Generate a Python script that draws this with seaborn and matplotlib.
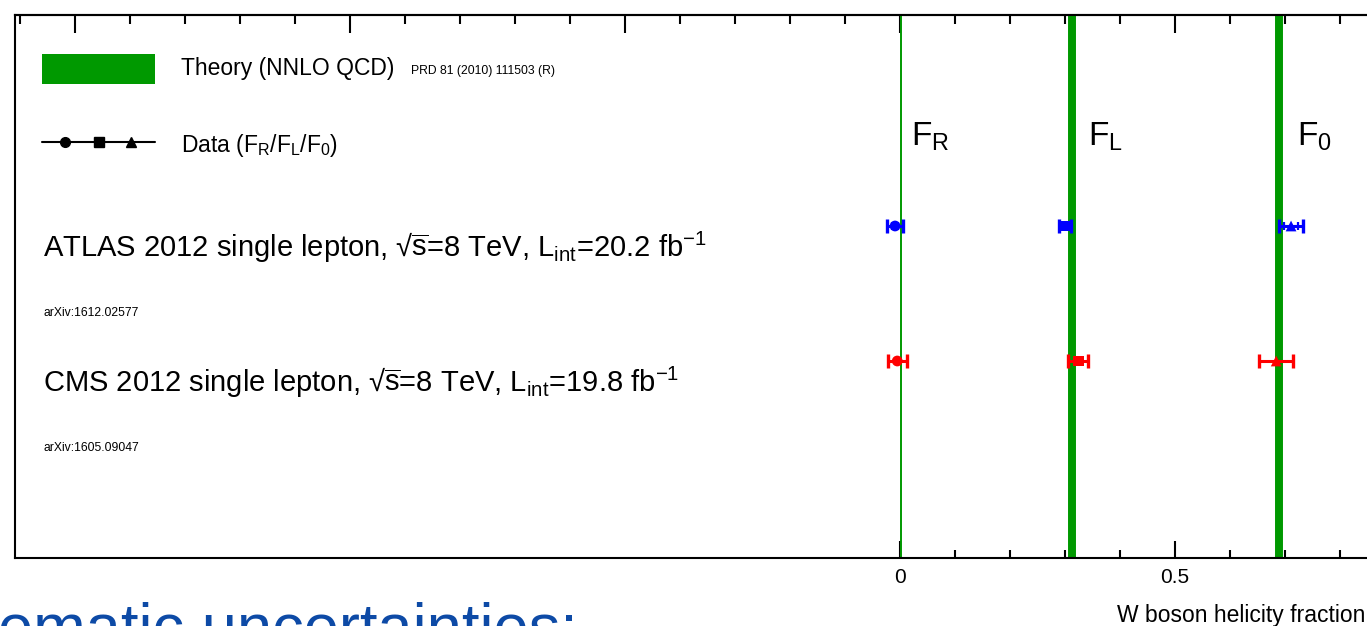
import numpy as np
import pandas as pd
import matplotlib
matplotlib.use('Agg')
import matplotlib.pyplot as plt
import seaborn as sns
from matplotlib.patches import Rectangle
from matplotlib.lines import Line2D
from matplotlib.ticker import MultipleLocator, NullFormatter

# ---------------- data ----------------
components = ['F_R', 'F_L', 'F_0']
comp_subscripts = ['R', 'L', '0']
theory_center = [0.0017, 0.312, 0.689]
theory_half = [0.0001, 0.0055, 0.0055]

experiments = ['ATLAS', 'CMS']
atlas_value = [-0.009, 0.300, 0.711]
atlas_stat = [0.006, 0.008, 0.013]
atlas_total = [0.015, 0.011, 0.021]
cms_value = [-0.005, 0.324, 0.684]
cms_total = [0.017, 0.018, 0.031]

exp_labels = [r'ATLAS 2012 single lepton, √$\overline{\mathrm{s}}$=8 TeV, L$_{\mathrm{int}}$=20.2 fb$^{\mathrm{-1}}$',
              r'CMS 2012 single lepton, √$\overline{\mathrm{s}}$=8 TeV, L$_{\mathrm{int}}$=19.8 fb$^{\mathrm{-1}}$']
exp_refs = ['arXiv:1612.02577', 'arXiv:1605.09047']
theory_label = 'Theory (NNLO QCD)'
theory_ref = 'PRD 81 (2010) 111503 (R)'
data_label = r'Data (F$_{\mathrm{R}}$/F$_{\mathrm{L}}$/F$_{\mathrm{0}}$)'
xlabel = 'W boson helicity fraction'
xtick_values = [0.0, 0.5]
xtick_labels = ['0', '0.5']
xminor_values = [0.1, 0.2, 0.3, 0.4, 0.6, 0.7, 0.8, 0.9]
slide_text = 'ematic uncertainties:'

# ---------------- style ----------------
sns.set_theme(style='white')
font = 'Liberation Sans'
plt.rcParams['font.family'] = [font, 'DejaVu Sans']
plt.rcParams['text.color'] = 'black'
plt.rcParams['xtick.color'] = 'black'
plt.rcParams['mathtext.fontset'] = 'custom'
plt.rcParams['mathtext.rm'] = font
plt.rcParams['mathtext.it'] = font
plt.rcParams['mathtext.fallback'] = 'stixsans'

W, H = 1367, 626
fig = plt.figure(figsize=(W / 100, H / 100), dpi=100)
fig.patch.set_facecolor('white')

def fx(px):
    return px / W

def fy(py):
    return 1 - py / H

# axes: left frame at x=15, top 15, bottom 558; value 0 at px 900, 0.1 per 55 px
x_left = (15 - 900) / 550
x_right = 1.0
right_px = 900 + 550 * x_right
ax = fig.add_axes([fx(15), fy(558), fx(right_px) - fx(15), fy(15) - fy(558)])
ax.set_xlim(x_left, x_right)
ax.set_ylim(1 + (558 - 226) / 135, 1 - (226 - 15) / 135)
ax.set_facecolor('white')

green = '#009900'
for c, h in zip(theory_center, theory_half):
    ax.axvspan(c - h, c + h, color=green, lw=1.4, zorder=1)

# data points
rows = {'ATLAS': 1.0, 'CMS': 2.0}
df = pd.DataFrame({
    'experiment': ['ATLAS'] * 3 + ['CMS'] * 3,
    'component': components * 2,
    'value': atlas_value + cms_value,
    'total': atlas_total + cms_total,
})
df['row'] = df['experiment'].map(rows)
palette = {'ATLAS': '#0000ff', 'CMS': '#ff0000'}
markers = {'F_R': 'o', 'F_L': 's', 'F_0': '^'}

for exp in experiments:
    sub = df[df['experiment'] == exp]
    ax.errorbar(sub['value'], sub['row'], xerr=sub['total'], fmt='none',
                ecolor=palette[exp], elinewidth=2.2, capsize=4.7, capthick=2.4, zorder=3)
sub = df[df['experiment'] == 'ATLAS']
ax.errorbar(sub['value'], sub['row'], xerr=atlas_stat, fmt='none',
            ecolor=palette['ATLAS'], elinewidth=2.2, capsize=3.2, capthick=1.6, zorder=3)

sns.scatterplot(data=df, x='value', y='row', hue='experiment', style='component',
                palette=palette, markers=markers, s=60, edgecolor='none',
                legend=False, ax=ax, zorder=4)

# ticks
ax.set_xticks(xtick_values)
ax.set_xticklabels(xtick_labels)
ax.set_xticks(xminor_values + [1.0], minor=True)
ax.set_yticks([])
ax.set_xlabel('')
ax.set_ylabel('')
ax.tick_params(axis='x', which='major', direction='in', length=12, width=1.5,
               bottom=True, top=False, labelsize=15, pad=7, colors='black')
ax.tick_params(axis='x', which='minor', direction='in', length=6, width=1.5,
               bottom=True, top=False)

secax = ax.secondary_xaxis('top')
secax.xaxis.set_major_locator(MultipleLocator(0.5))
secax.xaxis.set_minor_locator(MultipleLocator(0.1))
secax.xaxis.set_major_formatter(NullFormatter())
secax.tick_params(axis='x', which='major', direction='in', length=13, width=1.5, colors='black')
secax.tick_params(axis='x', which='minor', direction='in', length=6.5, width=1.5, colors='black')
secax.spines['top'].set_linewidth(1.5)
secax.spines['top'].set_color('black')

for s in ['left', 'bottom', 'top']:
    ax.spines[s].set_visible(True)
    ax.spines[s].set_linewidth(1.5)
    ax.spines[s].set_color('black')
ax.spines['right'].set_visible(False)

# component labels
for sub_, xpx in zip(comp_subscripts, [911, 1088, 1297]):
    fig.text(fx(xpx), fy(146), r'F$_{\mathrm{%s}}$' % sub_, fontsize=24,
             va='baseline', ha='left')

# legend
fig.patches.append(Rectangle((fx(42), fy(84)), fx(155) - fx(42), fy(54) - fy(84),
                             transform=fig.transFigure, facecolor=green, edgecolor='none'))
fig.add_artist(Line2D([fx(42), fx(155)], [fy(142), fy(142)], color='black', lw=1.5,
                      transform=fig.transFigure))
for mk, xpx in zip(['o', 's', '^'], [65, 99, 131]):
    fig.add_artist(Line2D([fx(xpx)], [fy(142)], marker=mk, markersize=7,
                          color='black', transform=fig.transFigure))
fig.text(fx(181), fy(75), theory_label, fontsize=16.5, va='baseline')
fig.text(fx(411), fy(74), theory_ref, fontsize=8.7, va='baseline')
fig.text(fx(181), fy(152), data_label, fontsize=16.5, va='baseline')

for lab, ref, base in zip(exp_labels, exp_refs, [257, 392]):
    fig.text(fx(43), fy(base), lab, fontsize=21, va='baseline')
    fig.text(fx(43), fy(base + 59), ref, fontsize=8.7, va='baseline')

fig.text(fx(1117), fy(622), xlabel, fontsize=16.5, va='baseline')
fig.text(fx(-2), fy(647), slide_text, fontsize=45.5,
         color='#0d4aa6', va='baseline')

fig.savefig('out.png', dpi=100)
